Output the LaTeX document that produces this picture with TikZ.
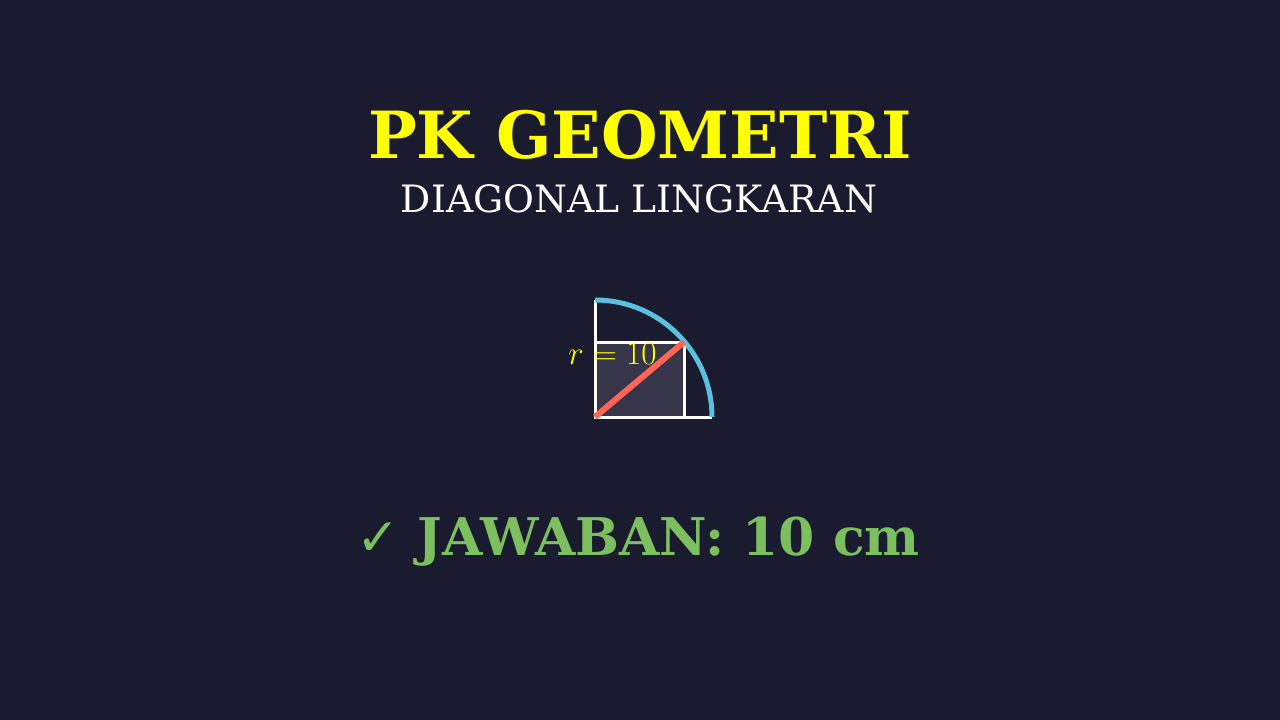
\documentclass[tikz,border=0pt]{standalone}
\usepackage[no-math]{fontspec}
\setmainfont{DejaVu Serif}
\newfontfamily\symfont{DejaVu Sans}
\definecolor{bg}{HTML}{1A1B2E}
\definecolor{titley}{HTML}{FFFF00}
\definecolor{ansg}{HTML}{7CBF5F}
\definecolor{arcc}{HTML}{5BC0DE}
\definecolor{diagc}{HTML}{FF6655}
\definecolor{rectf}{HTML}{363549}
\tikzset{
  txt/.style={inner sep=0pt, anchor=base},
  axisline/.style={draw=white, line width=3pt},
}
\begin{document}
\begin{tikzpicture}[x=1pt,y=-1pt]
\fill[bg] (0,0) rectangle (1280,720);
\useasboundingbox (0,0) rectangle (1280,720);
% title
\node[txt, text=titley, font=\fontsize{65}{78}\selectfont\bfseries] (title) at (640,158) {PK GEOMETRI};
\node[txt, text=white, font=\fontsize{37.7}{45}\selectfont] (sub) at (639,212) {DIAGONAL LINGKARAN};
% figure
\coordinate (O) at (595,417);
\coordinate (T) at (595,300);
\coordinate (R) at (712,417);
\coordinate (C) at (684,342);
\fill[rectf] (O) rectangle (C);
\draw[axisline] (T) -- (O) -- (R);
\draw[axisline] (O) rectangle (C);
\draw[arcc, line width=5pt] (T) arc[start angle=-90, end angle=0, radius=117];
\draw[diagc, line width=6pt] (O) -- (C);
\node[inner sep=0pt, text=titley, font=\fontsize{24.88}{30}\selectfont, scale=1.33] (lab) at (612.5,354) {$r=10$};
% answer
\node[txt, text=ansg, font=\fontsize{52}{62}\selectfont\bfseries] (ans) at (638,555) {{\symfont\mdseries ✓} JAWABAN: 10 cm};
\end{tikzpicture}
\end{document}
